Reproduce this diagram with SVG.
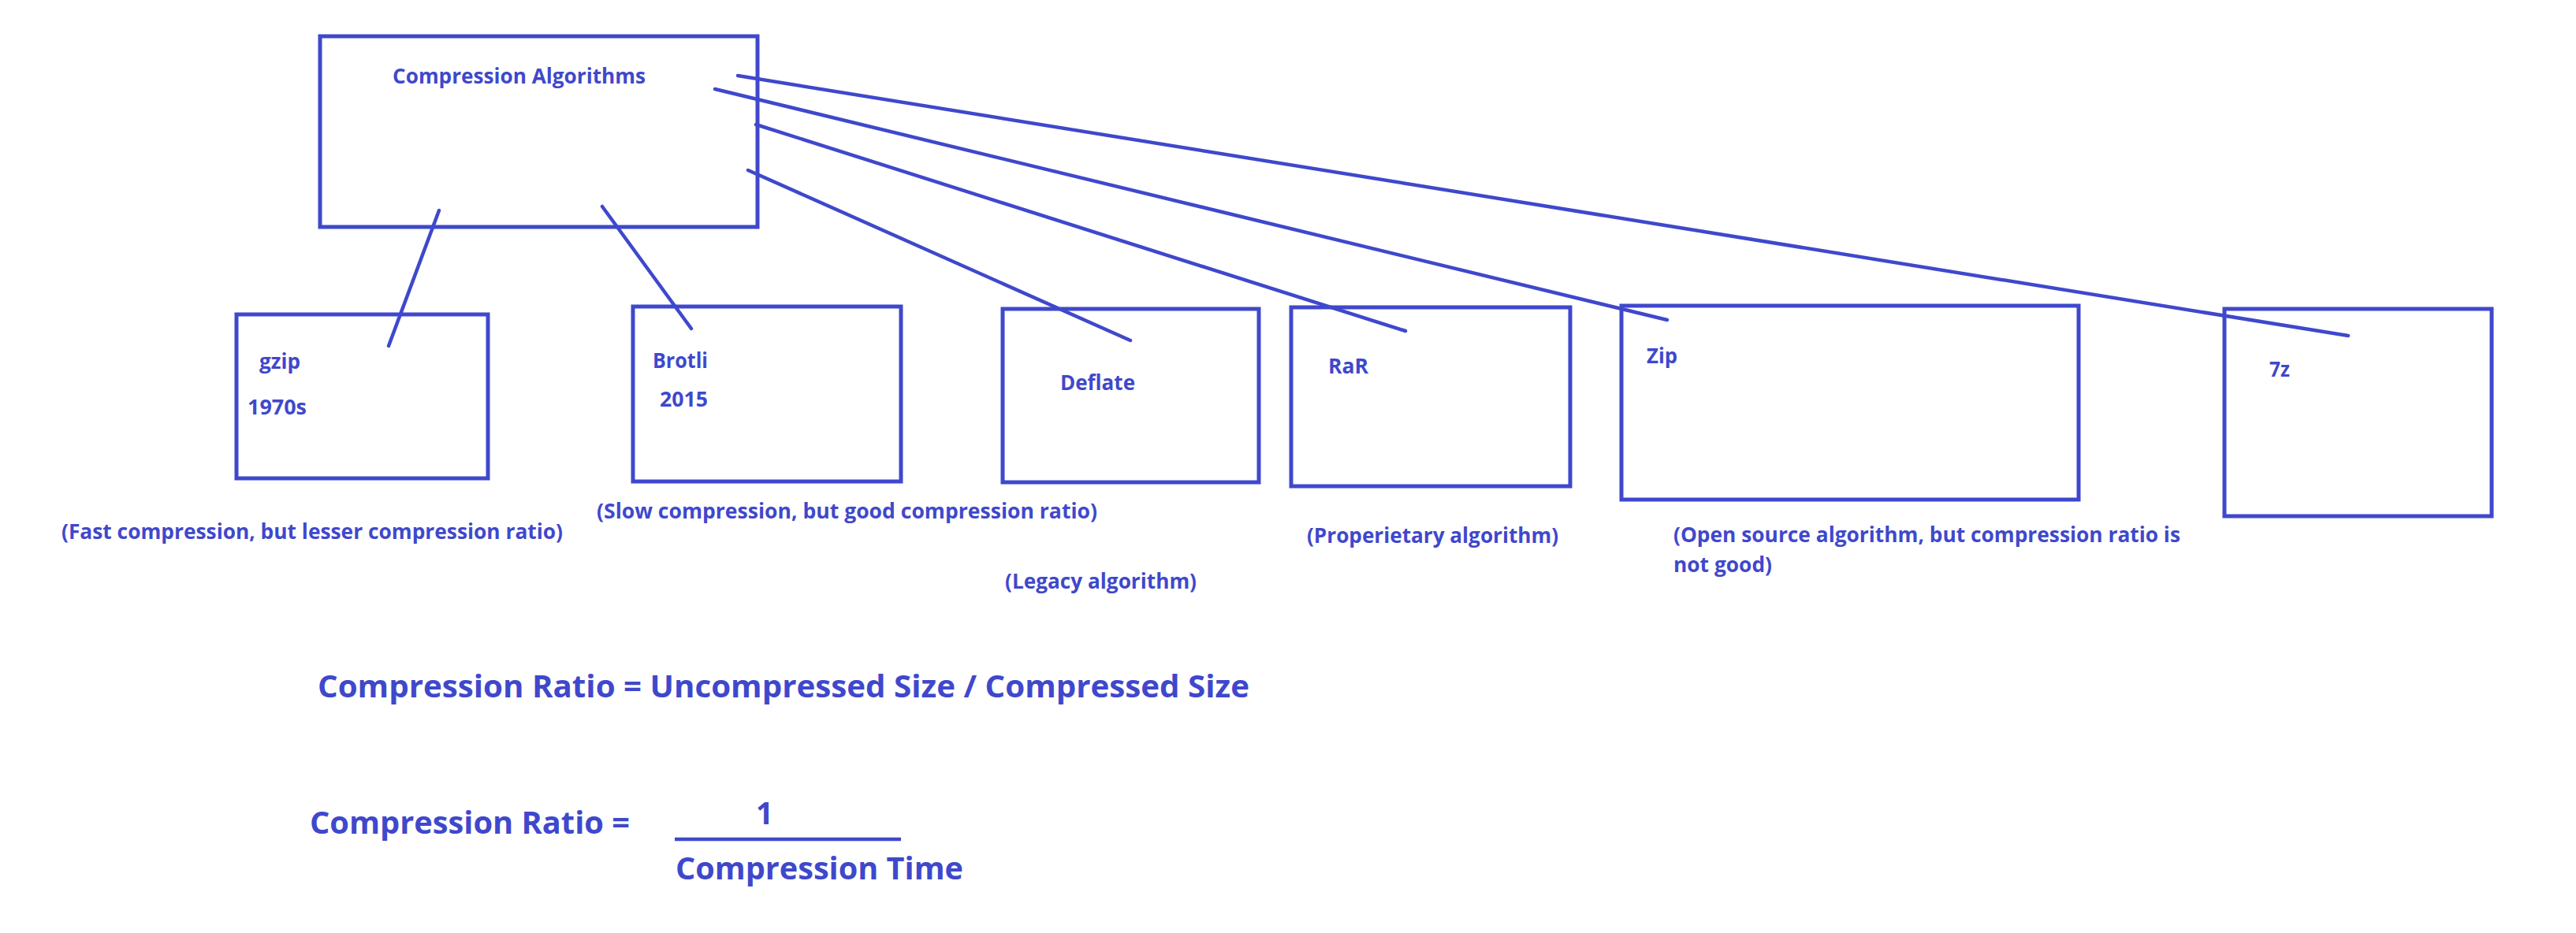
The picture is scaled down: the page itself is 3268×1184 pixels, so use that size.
<svg xmlns="http://www.w3.org/2000/svg" width="3268" height="1184" viewBox="0 0 3268 1184">
<style>
.box{fill:none;stroke:#3F48CC;stroke-width:5}
.ln{fill:none;stroke:#3F48CC;stroke-width:4.5;stroke-linecap:round}
text{font-family:"Open Sans","Noto Sans","Liberation Sans",sans-serif;font-weight:700;fill:#3F48CC}
.s{font-size:26px}
.f{font-size:39px}
</style>
<rect width="3268" height="1184" fill="#ffffff"/>
<g id="root">
<rect class="box" x="406" y="46" width="555" height="242"/>
<text class="s" x="498" y="106" textLength="321" lengthAdjust="spacingAndGlyphs">Compression Algorithms</text>
</g>
<g id="gzip">
<rect class="box" x="300" y="399" width="319" height="208"/>
<text class="s" x="329" y="468" textLength="52" lengthAdjust="spacingAndGlyphs">gzip</text>
<text class="s" x="314" y="526" textLength="75" lengthAdjust="spacingAndGlyphs">1970s</text>
</g>
<g id="brotli">
<rect class="box" x="803" y="389" width="340" height="222"/>
<text class="s" x="828" y="467" textLength="70" lengthAdjust="spacingAndGlyphs">Brotli</text>
<text class="s" x="837" y="516" textLength="61" lengthAdjust="spacingAndGlyphs">2015</text>
</g>
<g id="deflate">
<rect class="box" x="1272" y="392" width="325" height="220"/>
<text class="s" x="1345" y="495" textLength="95" lengthAdjust="spacingAndGlyphs">Deflate</text>
</g>
<g id="rar">
<rect class="box" x="1638" y="390" width="354" height="227"/>
<text class="s" x="1685" y="474" textLength="51" lengthAdjust="spacingAndGlyphs">RaR</text>
</g>
<g id="zip">
<rect class="box" x="2057" y="388" width="580" height="246"/>
<text class="s" x="2089" y="461" textLength="39" lengthAdjust="spacingAndGlyphs">Zip</text>
</g>
<g id="sevenz">
<rect class="box" x="2822" y="392" width="339" height="263"/>
<text class="s" x="2879" y="478" textLength="26" lengthAdjust="spacingAndGlyphs">7z</text>
</g>
<g id="connectors">
<line class="ln" x1="557" y1="267" x2="493" y2="439"/>
<line class="ln" x1="764" y1="262" x2="877" y2="417"/>
<line class="ln" x1="949" y1="216" x2="1434" y2="432"/>
<line class="ln" x1="959" y1="158" x2="1783" y2="420"/>
<line class="ln" x1="907" y1="113" x2="2115" y2="406"/>
<line class="ln" x1="936" y1="96" x2="2979" y2="426"/>
</g>
<g id="notes">
<text class="s" x="78" y="684" textLength="636" lengthAdjust="spacingAndGlyphs">(Fast compression, but lesser compression ratio)</text>
<text class="s" x="757" y="658" textLength="635" lengthAdjust="spacingAndGlyphs">(Slow compression, but good compression ratio)</text>
<text class="s" x="1275" y="747" textLength="243" lengthAdjust="spacingAndGlyphs">(Legacy algorithm)</text>
<text class="s" x="1658" y="689" textLength="319" lengthAdjust="spacingAndGlyphs">(Properietary algorithm)</text>
<text class="s" x="2123" y="688" textLength="643" lengthAdjust="spacingAndGlyphs">(Open source algorithm, but compression ratio is</text>
<text class="s" x="2123" y="726" textLength="125" lengthAdjust="spacingAndGlyphs">not good)</text>
</g>
<g id="formulas">
<text class="f" x="403" y="885" textLength="1182" lengthAdjust="spacingAndGlyphs">Compression Ratio = Uncompressed Size / Compressed Size</text>
<text class="f" x="393" y="1058" textLength="406" lengthAdjust="spacingAndGlyphs">Compression Ratio =</text>
<text class="f" x="959" y="1046" textLength="22" lengthAdjust="spacingAndGlyphs">1</text>
<line x1="856" y1="1065" x2="1143" y2="1065" stroke="#3F48CC" stroke-width="4.5"/>
<text class="f" x="857" y="1116" textLength="365" lengthAdjust="spacingAndGlyphs">Compression Time</text>
</g>
</svg>
